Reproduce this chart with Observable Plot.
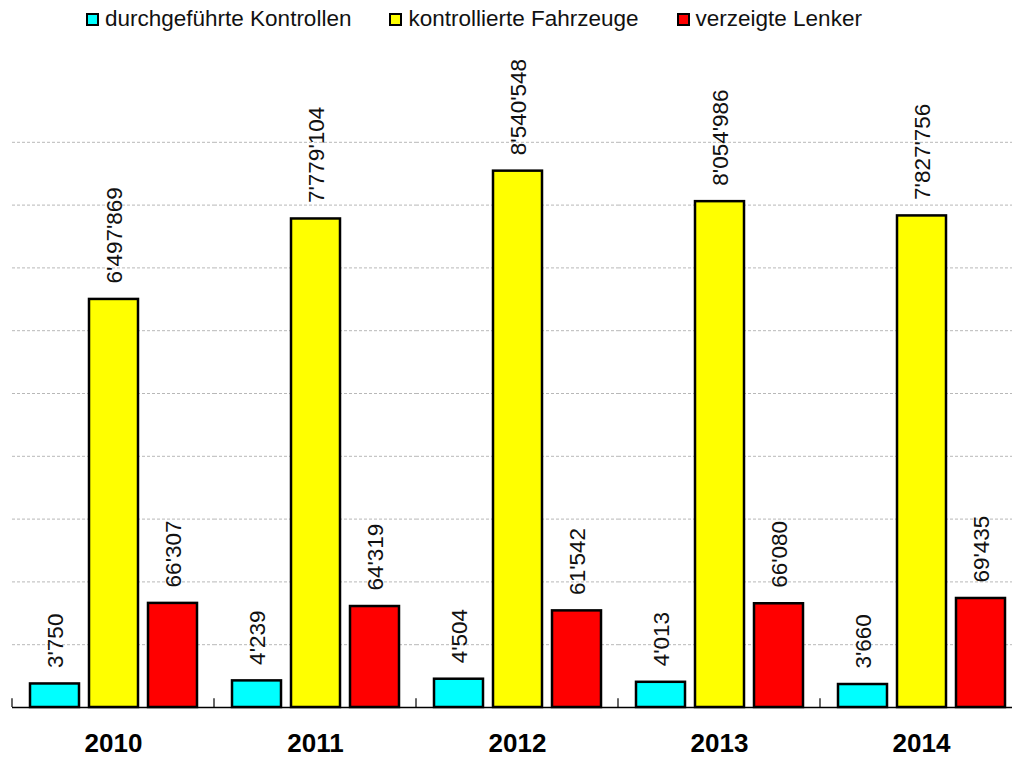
<!DOCTYPE html>
<html><head><meta charset="utf-8">
<script src="https://cdn.jsdelivr.net/npm/d3@7"></script>
<script src="https://cdn.jsdelivr.net/npm/@observablehq/plot@0.6"></script>
<style>
body{margin:0;background:#fff;font-family:"Liberation Sans",Arial,sans-serif;}
#wrap{position:relative;width:1012px;height:758px;overflow:hidden;}
#legend{position:absolute;left:86px;top:6px;display:flex;gap:38px;font-size:22.5px;color:#111;line-height:26px;white-space:nowrap;}
.item{display:flex;align-items:center;}
.sw{width:13px;height:13px;border:2px solid #000;box-sizing:border-box;margin-right:6px;}
</style></head><body><div id="wrap"><div id="legend"></div><div id="chart"></div></div>
<script>
const years = ["2010", "2011", "2012", "2013", "2014"];
const series = ["durchgeführte Kontrollen", "kontrollierte Fahrzeuge", "verzeigte Lenker"];
const colors = ["#00ffff", "#ffff00", "#ff0000"];
// each series is drawn against its own (hidden) axis maximum
const axisMax = [100000, 10000000, 400000];
const kontrollen = [3750, 4239, 4504, 4013, 3660];
const fahrzeuge = [6497869, 7779104, 8540548, 8054986, 7827756];
const lenker = [66307, 64319, 61542, 66080, 69435];
const gridValues = [0.1, 0.2, 0.3, 0.4, 0.5, 0.6, 0.7, 0.8, 0.9];

const seriesValues = [kontrollen, fahrzeuge, lenker];
const table = [];
years.forEach((year, i) => {
  series.forEach((s, j) => {
    table.push({year, series: s, value: seriesValues[j][i], norm: seriesValues[j][i] / axisMax[j]});
  });
});

const fmt = d3.formatLocale({thousands: "'", grouping: [3], decimal: ".", currency: ["", ""]}).format(",d");

// legend
const legend = d3.select("#legend");
series.forEach((s, j) => {
  const it = legend.append("div").attr("class", "item");
  it.append("div").attr("class", "sw").style("background", colors[j]);
  it.append("span").text(s);
});

const chart = Plot.plot({
  width: 1012,
  height: 758,
  marginLeft: 11,
  marginRight: -11,
  marginTop: 79,
  marginBottom: 51,
  style: {fontFamily: "Liberation Sans, Arial, sans-serif", background: "white", color: "black"},
  fx: {domain: years, paddingInner: 0, paddingOuter: 0, axis: null},
  x: {domain: series, paddingInner: 0.17, paddingOuter: 0.29, axis: null},
  y: {domain: [0, 1], axis: null},
  color: {domain: series, range: colors},
  marks: [
    Plot.ruleY(gridValues, {stroke: "#b8b8b8", strokeWidth: 1, strokeDasharray: "3,2"}),
    Plot.barY(table, {fx: "year", x: "series", y: "norm", fill: "series", stroke: "black", strokeWidth: 2.5}),
    Plot.ruleY([0], {stroke: "black", strokeWidth: 1.5}),
    Plot.ruleX(years, {fx: d => d, x: () => series[0], y1: 0, y2: 0.014, dx: -43, stroke: "black", strokeWidth: 1.2}),
    Plot.text(table, {fx: "year", x: "series", y: "norm", text: d => fmt(d.value), rotate: -90,
      textAnchor: "start", lineAnchor: "middle", dy: -16, dx: 1, fontSize: 22.5, fill: "#111"}),
    Plot.axisFx({anchor: "bottom", tickSize: 0, tickPadding: 26, fontSize: 26, fontWeight: "bold", label: null})
  ]
});
document.getElementById("chart").appendChild(chart);
</script>
</body></html>
